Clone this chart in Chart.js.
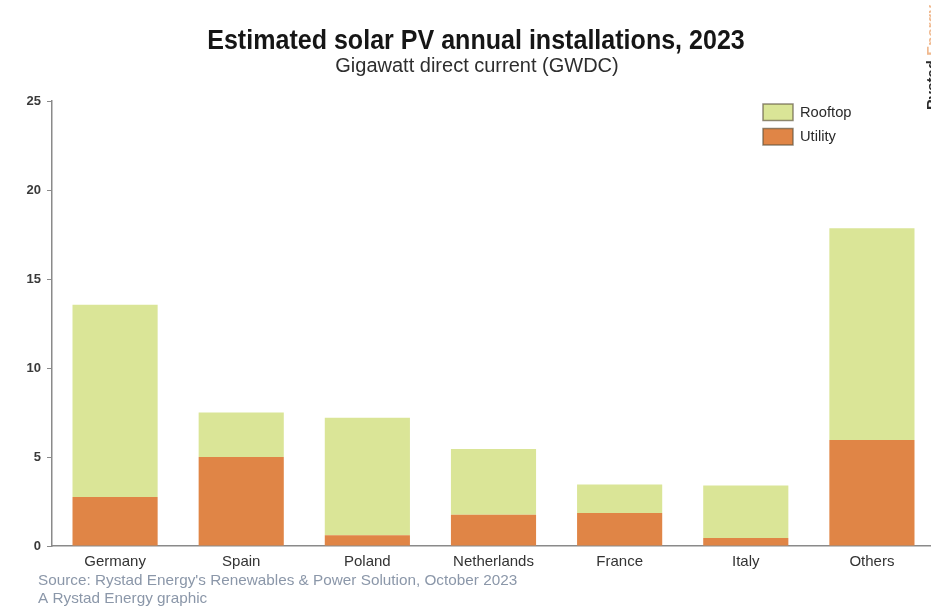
<!DOCTYPE html>
<html>
<head>
<meta charset="utf-8">
<script src="https://cdn.jsdelivr.net/npm/chart.js@4.4.1/dist/chart.umd.min.js"></script>
<style>
  html, body { margin: 0; padding: 0; background: #ffffff; overflow: hidden; width: 931px; height: 606px; }
  #wrap { width: 936px; height: 606px; }
</style>
</head>
<body>
<div id="wrap"><canvas id="c" width="936" height="606"></canvas></div>
<script>
// Estimated solar PV annual installations by market, 2023 (GWdc)
const categories = ['Germany', 'Spain', 'Poland', 'Netherlands', 'France', 'Italy', 'Others'];
const utility    = [2.75, 5.0, 0.6, 1.75, 1.85, 0.45, 5.95];
const rooftop    = [10.8, 2.5, 6.6, 3.7, 1.6, 2.95, 11.9];
const seriesNames = ['Utility', 'Rooftop'];
const yMax = 25;
const yStep = 5;

const titleText = 'Estimated solar PV annual installations, 2023';
const subtitleText = 'Gigawatt direct current (GWDC)';
const sourceLines = [
  "Source: Rystad Energy's Renewables & Power Solution, October 2023",
  'A Rystad Energy graphic'
];

const COL_UTILITY = '#e08546';
const COL_ROOFTOP = '#dae597';
const SANS = "'Liberation Sans', Arial, sans-serif";

// condensed-looking text: draw at full height, squeeze horizontally
function narrowText(ctx, text, x, y, squeeze, align) {
  ctx.save();
  ctx.translate(x, y);
  ctx.scale(squeeze, 1);
  ctx.textAlign = align;
  ctx.fillText(text, 0, 0);
  ctx.restore();
}

// Headline, legend, footer notes and the clipped brand mark
const decorations = {
  id: 'decorations',
  afterDraw(chart) {
    const ctx = chart.ctx;
    ctx.save();
    ctx.textBaseline = 'middle';
    ctx.fillStyle = '#161616';
    ctx.font = 'bold 28px ' + SANS;
    narrowText(ctx, titleText, 476, 41, 0.895, 'center');
    ctx.fillStyle = '#2e2e2e';
    ctx.font = '20px ' + SANS;
    narrowText(ctx, subtitleText, 477, 66, 1.0, 'center');

    // legend (top series listed first)
    const ds = chart.data.datasets.slice().reverse();
    ctx.font = '15px ' + SANS;
    ds.forEach((d, i) => {
      const y = 104 + i * 24.5;
      ctx.fillStyle = d.backgroundColor;
      ctx.fillRect(763, y, 30, 16.5);
      ctx.strokeStyle = 'rgba(90,80,60,0.65)';
      ctx.lineWidth = 1.5;
      ctx.strokeRect(763, y, 30, 16.5);
      ctx.fillStyle = '#2a2a2a';
      narrowText(ctx, d.label, 800, y + 8.5, 0.98, 'left');
    });

    // footer
    ctx.fillStyle = '#8b97a9';
    ctx.font = '15px ' + SANS;
    narrowText(ctx, sourceLines[0], 38, 581, 1.02, 'left');
    narrowText(ctx, sourceLines[1], 38, 599, 1.02, 'left');

    // brand mark running up the right edge
    ctx.save();
    ctx.translate(937, 110);
    ctx.rotate(-Math.PI / 2);
    ctx.textAlign = 'left';
    ctx.textBaseline = 'alphabetic';
    ctx.font = 'bold 15px ' + SANS;
    ctx.fillStyle = '#2b2b2b';
    ctx.fillText('Rystad', 0, 0);
    const w = ctx.measureText('Rystad ').width;
    ctx.fillStyle = '#f0b98f';
    ctx.fillText('Energy', w, 0);
    ctx.restore();
    ctx.restore();
  }
};

new Chart(document.getElementById('c'), {
  type: 'bar',
  data: {
    labels: categories,
    datasets: [
      { label: seriesNames[0], data: utility, backgroundColor: COL_UTILITY, borderWidth: 0 },
      { label: seriesNames[1], data: rooftop, backgroundColor: COL_ROOFTOP, borderWidth: 0 }
    ]
  },
  options: {
    responsive: false,
    animation: false,
    layout: { padding: { top: 101, right: 1, left: 0, bottom: 0 } },
    datasets: { bar: { categoryPercentage: 1.0, barPercentage: 0.675 } },
    plugins: { legend: { display: false }, title: { display: false }, tooltip: { enabled: false } },
    scales: {
      x: {
        stacked: true,
        grid: { display: false, drawTicks: false },
        border: { display: true, color: '#8a8a8a', width: 1.5 },
        ticks: { color: '#333333', font: { family: SANS, size: 15 }, padding: 7 },
        afterFit(s) { s.height = 60; }
      },
      y: {
        stacked: true,
        min: 0,
        max: yMax,
        grid: { drawOnChartArea: false, drawTicks: true, tickLength: 5, color: '#8a8a8a' },
        border: { display: true, color: '#8a8a8a', width: 1.5 },
        ticks: { stepSize: yStep, color: '#3a3a3a', font: { family: SANS, size: 13, weight: 'bold' }, padding: 6 },
        afterFit(s) { s.width = 52; }
      }
    }
  },
  plugins: [decorations]
});
</script>
</body>
</html>
